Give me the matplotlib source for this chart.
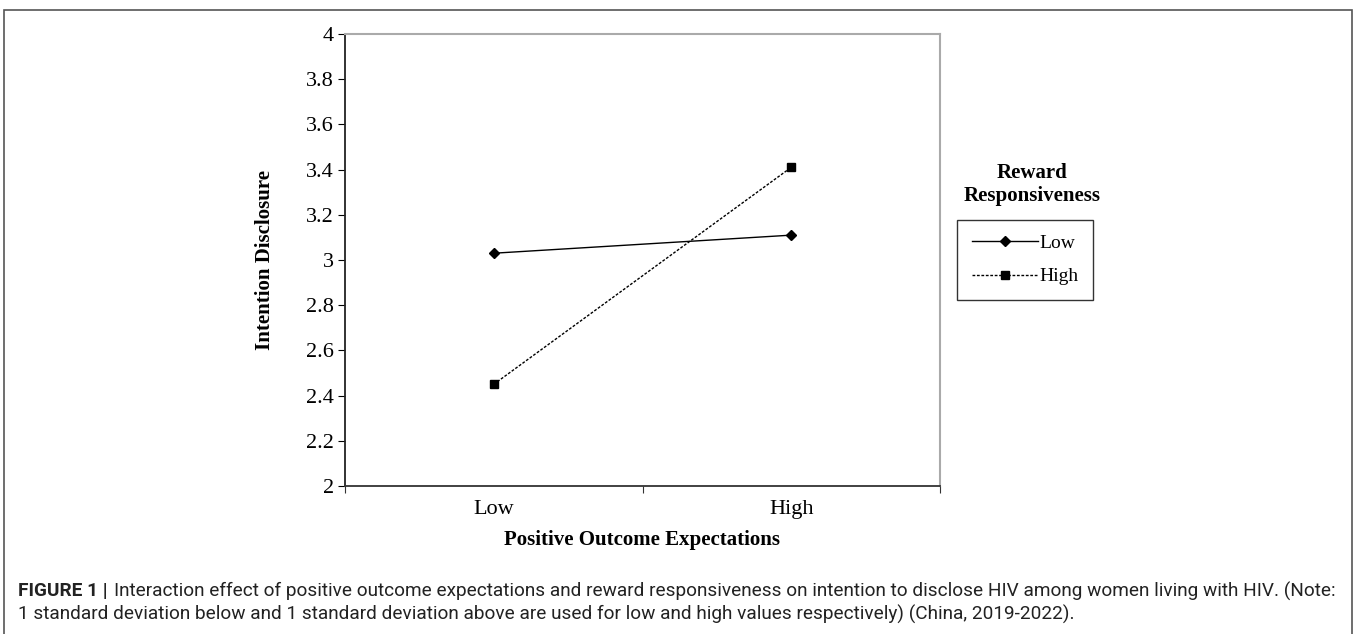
import matplotlib.pyplot as plt
from matplotlib.patches import Rectangle

# data
categories = ['Low', 'High']
low_rr = [3.03, 3.11]
high_rr = [2.45, 3.41]
yticks = [2, 2.2, 2.4, 2.6, 2.8, 3, 3.2, 3.4, 3.6, 3.8, 4]
ytick_labels = ['2', '2.2', '2.4', '2.6', '2.8', '3', '3.2', '3.4', '3.6', '3.8', '4']

W, H = 1357, 634
fig = plt.figure(figsize=(W / 100, H / 100), dpi=100)

# outer frame around figure + caption
fig.patches.append(Rectangle((4 / W, -0.01), 1348 / W, 1 - 10 / H + 0.01,
                             transform=fig.transFigure, fill=False,
                             edgecolor='#555555', linewidth=1.2))

ax = fig.add_axes([345 / W, 1 - 486 / H, (940 - 345) / W, (486 - 34) / H])

x = [0.5, 1.5]
ax.plot(x, low_rr, color='black', linewidth=1.0, marker='D', markersize=5,
        label='Low')
ax.plot(x, high_rr, color='black', linewidth=1.0, linestyle=(0, (2, 1.2)),
        marker='s', markersize=6, label='High')

ax.set_xlim(0, 2)
ax.set_ylim(2, 4)
ax.set_yticks(yticks)
ax.set_yticklabels(ytick_labels)
ax.set_xticks([0, 1, 2])
ax.set_xticklabels([])
ax.set_xticks(x, minor=True)
ax.set_xticklabels(categories, minor=True)
ax.tick_params(axis='x', which='minor', length=0, pad=10)
ax.tick_params(axis='x', which='major', length=5, direction='out', color='#333333')
ax.tick_params(axis='y', length=5, direction='out', pad=3)

serif = 'Liberation Serif'
for lab in ax.get_yticklabels() + ax.get_xticklabels(minor=True):
    lab.set_fontfamily(serif)
    lab.set_fontsize(16)

ax.spines['left'].set_color('#222222')
ax.spines['bottom'].set_color('#333333')
ax.spines['left'].set_linewidth(1.3)
ax.spines['bottom'].set_linewidth(1.3)
ax.spines['top'].set_color('#aaaaaa')
ax.spines['right'].set_color('#aaaaaa')
ax.spines['top'].set_linewidth(1.5)
ax.spines['right'].set_linewidth(1.5)

ax.set_ylabel('Intention Disclosure', fontfamily=serif, fontweight='bold',
              fontsize=15, labelpad=22)
ax.set_xlabel('Positive Outcome Expectations', fontfamily=serif,
              fontweight='bold', fontsize=15, labelpad=8)

fig.text(1032 / W, 1 - 184 / H, 'Reward\nResponsiveness', ha='center',
         va='center', fontfamily=serif, fontweight='bold', fontsize=15,
         linespacing=1.2)

leg = fig.legend(loc='upper left', bbox_to_anchor=(957 / W, 1 - 220 / H),
                 frameon=True, fancybox=False, edgecolor='black',
                 prop={'family': serif, 'size': 14}, handlelength=3.4,
                 handletextpad=0.1, labelspacing=0.8, borderpad=0.75,
                 borderaxespad=0)
leg.get_frame().set_linewidth(1.0)

# caption, fitted to the reference width
cap_font = 'Roboto'
line1 = ('Interaction effect of positive outcome expectations and reward responsiveness on '
         'intention to disclose HIV among women living with HIV. (Note:')
line2 = ('1 standard deviation below and 1 standard deviation above are used for low and high '
         'values respectively) (China, 2019-2022).')

fs = 14.5
t1 = fig.text(18 / W, 1 - 591 / H, 'FIGURE 1 |', fontfamily=cap_font,
              fontweight='bold', fontsize=fs, va='center', color='#222222')
t2 = fig.text(0, 1 - 591 / H, line1, fontfamily=cap_font, fontsize=fs,
              va='center', color='#222222')
t3 = fig.text(18 / W, 1 - 614 / H, line2, fontfamily=cap_font, fontsize=fs,
              va='center', color='#222222')

r = fig.canvas.get_renderer()
w1 = t1.get_window_extent(r).width
w2 = t2.get_window_extent(r).width
scale = (1335 - 18) / (w1 + 6 + w2)
for t in (t1, t2, t3):
    t.set_fontsize(fs * scale)
w1 = t1.get_window_extent(r).width
t2.set_x((18 + w1 + 6) / W)

fig.savefig('out.png', dpi=100)
